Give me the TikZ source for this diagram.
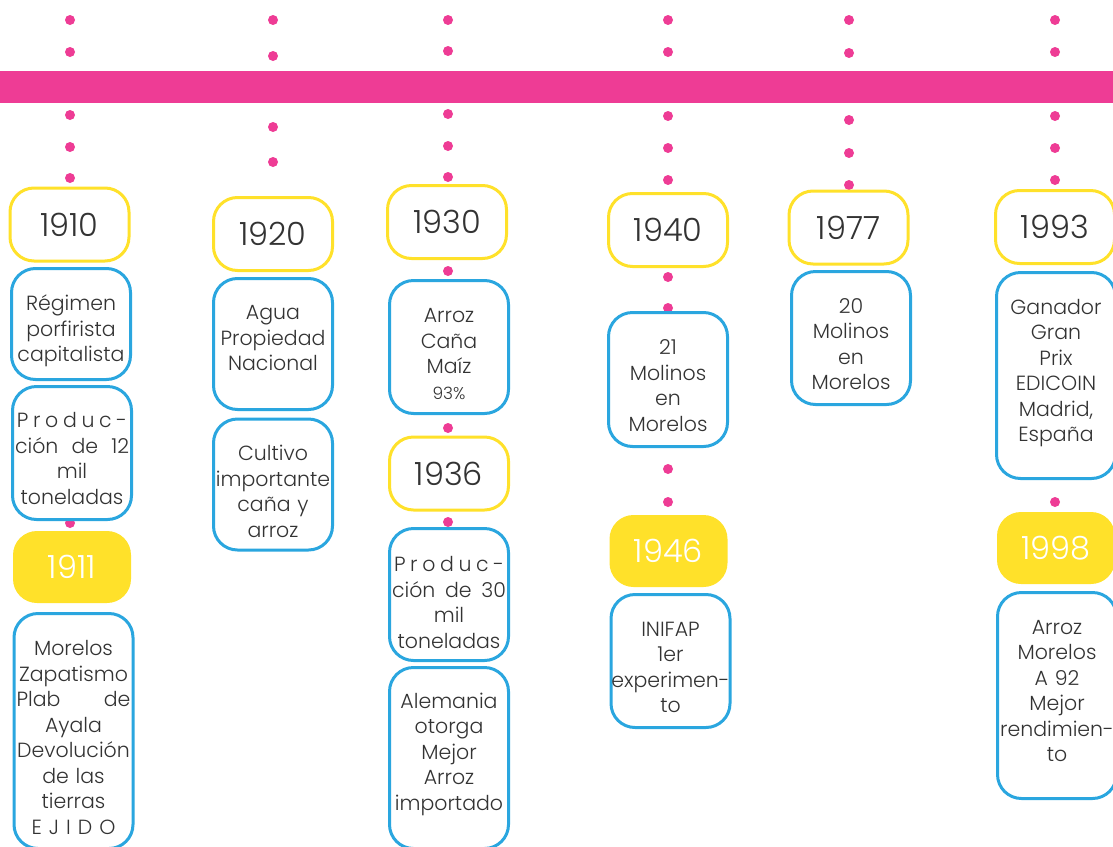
\documentclass[tikz,border=0pt]{standalone}
\usepackage{fontspec}
\setmainfont{Poppins Light}
\definecolor{tlpink}{HTML}{EE3C95}
\definecolor{tlyellow}{HTML}{FFE12A}
\definecolor{tlblue}{HTML}{2AA6DF}
\definecolor{tltext}{HTML}{333333}
% line whose spaces stretch to the full width
\newcommand{\spreadline}[2][114pt]{{\spaceskip=0pt plus 1fil\makebox[#1][s]{#2}}}

\begin{document}
\begin{tikzpicture}[x=1pt,y=-1pt,
  yearbox/.style={draw=tlyellow,line width=3pt,fill=white,rounded corners=24pt,minimum width=119pt,minimum height=73pt,text=tltext,font=\fontsize{32}{34}\selectfont},
  yearfill/.style={fill=tlyellow,rounded corners=24pt,minimum width=118pt,minimum height=72pt,text=white,font=\fontsize{32}{34}\selectfont},
  infobox/.style={draw=tlblue,line width=3pt,fill=white,rounded corners=24pt,minimum width=119pt},
  boxtext/.style={text width=119pt,inner sep=0pt,align=center,text=tltext,font=\fontsize{20.5}{25.5}\selectfont,
    yshift=-2pt,execute at begin node=\strut,execute at end node=\strut}]
\useasboundingbox (0,0) rectangle (1113,846);
% timeline bar
\fill[tlpink] (0,71) rectangle (1113,103);
% dots
\foreach \x/\ys in {70/{20,52,115,147,178,523}, 273/{20,56,127,162},
    448/{20,51,114,146,177,271,428,522}, 668/{20,52,116,148,180,277,308,469,502},
    849/{20,53,120,153,185}, 1055/{20,52,116,148,180,502}}
  \foreach \y in \ys \fill[tlpink] (\x,\y) circle (5pt);
% 1910
\node[yearbox] (y1910) at (69.5,224.5) {1910};
\node[infobox,minimum height=111pt] (regimen) at (71,324) {};
\node[boxtext] (regimen-t) at (71,329) {Régimen\\porfirista\\capitalista};
\node[infobox,minimum height=133pt] (prod12) at (72,453) {};
\node[boxtext] (prod12-t) at (72,459) {\spreadline[110pt]{P r o d u c -}\\\spreadline{ción de 12}\\mil\\toneladas};
\node[yearfill] (y1911) at (72,567) {1911};
\node[infobox,minimum height=235pt] (zapata) at (73.5,731) {};
\node[boxtext] (zapata-t) at (73.5,738) {Morelos\\Zapatismo\\\spreadline{Plab de}\\Ayala\\Devolución\\de las\\tierras\\\spreadline[84pt]{E J I D O}};
% 1920
\node[yearbox] (y1920) at (273,234) {1920};
\node[infobox,minimum height=131pt] (agua) at (273,344) {};
\node[boxtext] (agua-t) at (273,338) {Agua\\Propiedad\\Nacional};
\node[infobox,minimum height=131pt] (cultivo) at (273,484.5) {};
\node[boxtext] (cultivo-t) at (273,492) {Cultivo\\importante\\caña y\\arroz};
% 1930 - 1936
\node[yearbox] (y1930) at (447,222) {1930};
\node[infobox,minimum height=133pt] (arroz) at (449,347) {};
\node[boxtext] (arroz-t) at (449,354) {Arroz\\Caña\\Maíz\\{\fontsize{17}{20}\selectfont 93\%}};
\node[yearbox] (y1936) at (449,473.5) {1936};
\node[infobox,minimum height=132pt] (prod30) at (449,594.5) {};
\node[boxtext] (prod30-t) at (449,603) {\spreadline[110pt]{P r o d u c -}\\\spreadline{ción de 30}\\mil\\toneladas};
\node[infobox,minimum height=181pt] (alemania) at (449,758) {};
\node[boxtext] (alemania-t) at (449,752) {Alemania\\otorga\\Mejor\\Arroz\\importado};
% 1940 - 1946
\node[yearbox] (y1940) at (668,230) {1940};
\node[infobox,minimum height=134pt] (molinos21) at (668,379.5) {};
\node[boxtext] (molinos21-t) at (668,386) {21\\Molinos\\en\\Morelos};
\node[yearfill] (y1946) at (668.5,551) {1946};
\node[infobox,minimum height=133pt] (inifap) at (670.5,661) {};
\node[boxtext] (inifap-t) at (670.5,667.5) {INIFAP\\1er\\experimen-\\to};
% 1977
\node[yearbox] (y1977) at (848.5,227.5) {1977};
\node[infobox,minimum height=133pt] (molinos20) at (851,338) {};
\node[boxtext] (molinos20-t) at (851,344.5) {20\\Molinos\\en\\Morelos};
% 1993 - 1998
\node[yearbox] (y1993) at (1055,227) {1993};
\node[infobox,minimum height=206pt] (ganador) at (1056,375.5) {};
\node[boxtext] (ganador-t) at (1056,371) {Ganador\\Gran\\Prix\\EDICOIN\\Madrid,\\España};
\node[yearfill] (y1998) at (1056,548) {1998};
\node[infobox,minimum height=206pt] (a92) at (1057,695.5) {};
\node[boxtext] (a92-t) at (1057,691) {Arroz\\Morelos\\A 92\\Mejor\\rendimien-\\to};
\end{tikzpicture}
\end{document}
